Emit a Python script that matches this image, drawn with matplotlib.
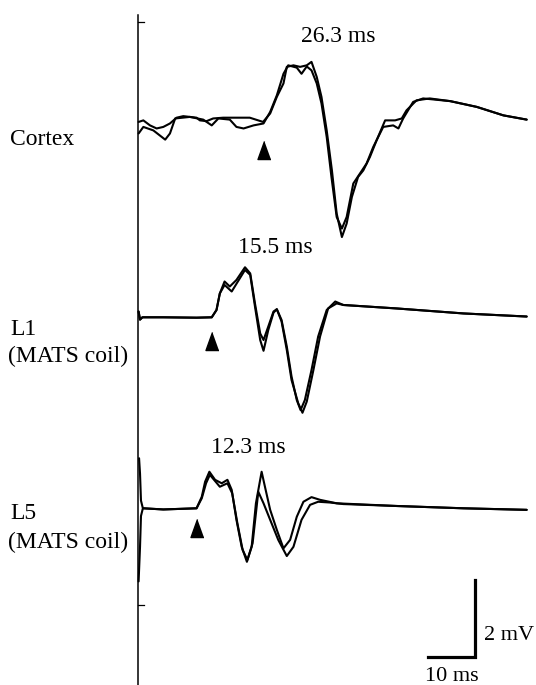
import matplotlib
matplotlib.use("Agg")
import matplotlib.pyplot as plt

# ---------------------------------------------------------------
# Evoked potentials, two superimposed sweeps per recording site
# time in ms, amplitude in mV (relative to each trace's baseline)
# ---------------------------------------------------------------

CORTEX_T_A = [0.0, 1.0, 2.4, 3.8, 5.2, 6.6, 8.0, 9.4, 12.2, 12.9, 14.3, 15.7, 17.8, 20.6,
              23.4, 26.2, 27.7, 29.1, 30.5, 31.2, 32.6, 34.0, 35.4, 36.4, 37.5, 38.5, 39.6,
              40.7, 41.7, 42.8, 43.8, 44.9, 46.2, 47.3, 48.7, 50.1, 51.9, 54.0, 55.4, 56.4,
              58.5, 61.3, 65.6, 71.2, 76.8, 81.7]
CORTEX_V_A = [-0.12, -0.08, -0.21, -0.29, -0.25, -0.16, -0.01, 0.03, -0.01, -0.08, -0.10, -0.03,
              -0.01, -0.01, -0.01, -0.12, 0.10, 0.53, 0.88, 1.31, 1.35, 1.31, 1.35, 1.44, 1.05,
              0.53, -0.34, -1.38, -2.50, -3.11, -2.76, -2.07, -1.55, -1.38, -1.03, -0.60, -0.08,
              -0.08, -0.03, 0.18, 0.44, 0.49, 0.42, 0.27, 0.05, -0.06]
CORTEX_T_B = [0.0, 1.0, 3.1, 5.6, 6.6, 7.7, 10.8, 13.6, 15.4, 16.8, 19.2, 20.6, 22.1, 24.2,
              26.3, 27.7, 29.1, 30.5, 31.5, 33.3, 34.3, 35.4, 36.4, 37.5, 38.5, 39.6, 40.6,
              41.7, 42.8, 43.8, 45.2, 46.6, 48.0, 49.4, 51.5, 53.6, 54.7, 55.7, 57.8, 59.9,
              65.6, 71.2, 76.8, 81.7]
CORTEX_V_B = [-0.42, -0.25, -0.34, -0.58, -0.42, -0.03, 0.01, -0.06, -0.21, -0.03, -0.06, -0.25,
              -0.29, -0.21, -0.16, 0.14, 0.57, 1.13, 1.35, 1.29, 1.13, 1.32, 1.22, 0.88, 0.36,
              -0.51, -1.55, -2.59, -2.89, -2.59, -1.72, -1.46, -1.20, -0.77, -0.25, -0.21,
              -0.29, -0.03, 0.40, 0.49, 0.42, 0.27, 0.05, -0.06]

L1_T_A = [0.0, 0.3, 0.8, 1.4, 5.2, 12.2, 15.4, 16.4, 17.1, 18.1, 19.2, 20.6, 22.4, 23.5, 24.5,
          25.6, 26.3, 27.3, 28.4, 29.1, 30.1, 31.2, 32.2, 33.3, 34.1, 35.0, 36.4, 37.8, 39.6,
          41.4, 43.1, 54.3, 68.4, 81.7]
L1_V_A = [0.15, -0.06, 0.0, 0.0, 0.0, -0.01, 0.0, 0.19, 0.62, 0.93, 0.80, 0.97, 1.30, 1.14, 0.36,
          -0.42, -0.59, -0.24, 0.15, 0.21, -0.07, -0.76, -1.54, -2.15, -2.41, -2.15, -1.37,
          -0.50, 0.19, 0.41, 0.32, 0.23, 0.10, 0.02]
L1_T_B = [0.0, 0.3, 0.8, 1.4, 5.2, 12.2, 15.4, 16.4, 17.1, 18.1, 19.6, 22.4, 23.5, 24.5, 25.6,
          26.3, 27.3, 28.4, 29.1, 30.1, 31.2, 32.2, 33.6, 34.5, 35.4, 36.8, 38.2, 39.9, 41.7,
          43.1, 54.3, 68.4, 81.7]
L1_V_B = [0.15, -0.06, 0.0, 0.0, 0.0, -0.01, 0.0, 0.19, 0.62, 0.84, 0.67, 1.23, 1.10, 0.28, -0.59,
          -0.87, -0.33, 0.12, 0.21, -0.11, -0.85, -1.63, -2.23, -2.48, -2.19, -1.37, -0.50,
          0.23, 0.36, 0.32, 0.23, 0.10, 0.02]

L5_T_A = [1.0, 5.2, 12.2, 13.3, 14.0, 14.9, 16.1, 17.5, 18.7, 19.6, 20.6, 21.7, 22.8, 23.8,
          24.7, 25.9, 26.6, 27.7, 29.1, 30.5, 31.9, 33.3, 34.7, 36.4, 38.2, 41.7, 54.3, 68.4, 81.7]
L5_V_A = [0.0, -0.03, 0.0, 0.30, 0.69, 0.95, 0.74, 0.65, 0.74, 0.48, -0.30, -1.00, -1.39, -1.00,
          0.13, 0.95, 0.56, -0.04, -0.56, -1.04, -0.82, -0.22, 0.17, 0.29, 0.22, 0.13, 0.06,
          0.0, -0.04]
L5_T_B = [1.0, 5.2, 12.2, 13.3, 14.2, 15.0, 17.1, 18.7, 19.7, 20.8, 21.9, 22.9, 24.0, 25.2,
          26.3, 27.7, 29.4, 31.2, 32.6, 34.3, 36.1, 37.8, 40.3, 43.1, 54.3, 68.4, 81.7]
L5_V_B = [0.0, -0.03, 0.0, 0.26, 0.65, 0.87, 0.56, 0.65, 0.39, -0.39, -1.08, -1.34, -0.91, 0.43,
          0.13, -0.30, -0.82, -1.24, -1.00, -0.30, 0.09, 0.17, 0.15, 0.11, 0.06, 0.0, -0.04]
# stimulus artefact at the start of the L5 sweep
L5_ART_T = [0.1, 0.3, 0.5, 0.9, 0.5, 0.3, 0.0]
L5_ART_V = [1.3, 0.9, 0.2, 0.0, -0.2, -1.0, -1.9]

SITES = ["Cortex", "L1", "L5"]
ONSETS = [26.3, 15.5, 12.3]          # onset latency, ms
ONSET_LABELS = ["26.3 ms", "15.5 ms", "12.3 ms"]

SCALE_MV = 2
SCALE_MS = 10

# ---------------------------------------------------------------
# layout
# ---------------------------------------------------------------
W, H = 536, 685
PX_PER_MS = 4.75
PX_PER_MV = 38.5
X0 = 138.6                       # pixel column of t = 0
BASE = {"Cortex": (H - 117.3) / PX_PER_MV,
        "L1": (H - 317.3) / PX_PER_MV,
        "L5": (H - 508.3) / PX_PER_MV}
ARROW_DY = {"Cortex": -0.85, "L1": -0.61, "L5": -0.50}

plt.rcParams["font.family"] = ["Liberation Serif", "DejaVu Serif"]

fig = plt.figure(figsize=(W / 100, H / 100), dpi=100)
ax = fig.add_axes([0, 0, 1, 1])
ax.set_xlim(-X0 / PX_PER_MS, (W - X0) / PX_PER_MS)
ax.set_ylim(0, H / PX_PER_MV)
ax.axis("off")


def fpos(x, y):
    """pixel position (from top-left) -> figure fraction"""
    return x / W, 1 - y / H


lw = 1.5
traces = {
    "Cortex": [(CORTEX_T_A, CORTEX_V_A), (CORTEX_T_B, CORTEX_V_B)],
    "L1": [(L1_T_A, L1_V_A), (L1_T_B, L1_V_B)],
    "L5": [(L5_T_A, L5_V_A), (L5_T_B, L5_V_B), (L5_ART_T, L5_ART_V)],
}
for site in SITES:
    b = BASE[site]
    for t, v in traces[site]:
        ax.plot(t, [b + val for val in v], color="black", lw=lw,
                solid_joinstyle="round", solid_capstyle="round")

# onset arrowheads
tri = [(0, 1), (-0.72, -1), (0.72, -1)]
for site, onset in zip(SITES, ONSETS):
    ax.plot([onset], [BASE[site] + ARROW_DY[site]], marker=tri, ms=13,
            color="black", ls="none")

# vertical reference line on the left
ax.plot([-0.1, -0.1], [0, (H - 15) / PX_PER_MV], color="black", lw=1.1)
for ypx in [22, 605]:
    ax.plot([-0.1, 1.2], [(H - ypx) / PX_PER_MV] * 2, color="black", lw=0.9)

# scale bar
corner_t = (475 - X0) / PX_PER_MS
corner_v = (H - 657) / PX_PER_MV
ax.plot([corner_t - SCALE_MS, corner_t, corner_t],
        [corner_v, corner_v, corner_v + SCALE_MV],
        color="black", lw=2.3, solid_joinstyle="miter")

fs = 17
# latency labels
fig.text(*fpos(338, 42), ONSET_LABELS[0], fontsize=fs, ha="center", va="baseline")
fig.text(*fpos(275, 253), ONSET_LABELS[1], fontsize=fs, ha="center", va="baseline")
fig.text(*fpos(248, 453), ONSET_LABELS[2], fontsize=fs, ha="center", va="baseline")

# site labels
fig.text(*fpos(10, 145), "Cortex", fontsize=fs, ha="left", va="baseline")
fig.text(*fpos(10, 335), "L1", fontsize=fs, ha="left", va="baseline")
fig.text(*fpos(8, 362), "(MATS coil)", fontsize=fs, ha="left", va="baseline")
fig.text(*fpos(10, 519), "L5", fontsize=fs, ha="left", va="baseline")
fig.text(*fpos(8, 548), "(MATS coil)", fontsize=fs, ha="left", va="baseline")

# scale bar labels (kept just inside the canvas)
fig.text(*fpos(534, 640), f"{SCALE_MV} mV", fontsize=16, ha="right", va="baseline")
fig.text(*fpos(452, 681), f"{SCALE_MS} ms", fontsize=16, ha="center", va="baseline")

fig.savefig("out.png", dpi=100)
